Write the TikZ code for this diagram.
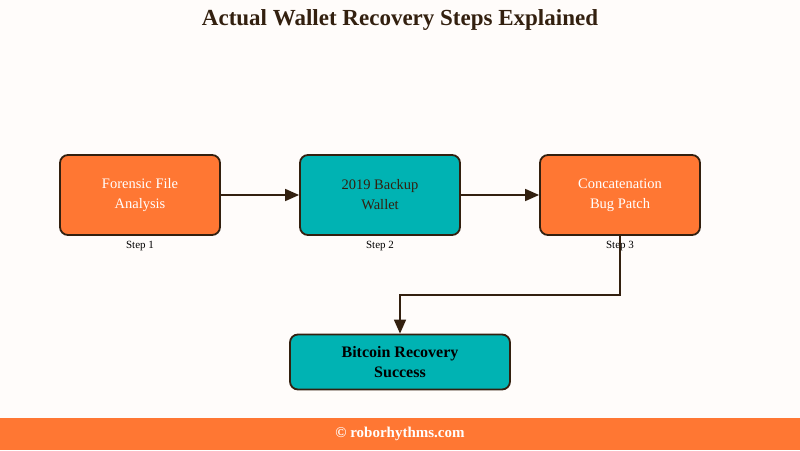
\documentclass[tikz,border=0pt]{standalone}
\usepackage{fontspec}
\setmainfont{Liberation Serif}
\usetikzlibrary{positioning,arrows.meta}
\definecolor{bgcol}{HTML}{FFFCFA}
\definecolor{stepor}{HTML}{FF7733}
\definecolor{stepteal}{HTML}{00B3B3}
\definecolor{edgecol}{HTML}{33200F}
\tikzset{
  stepbox/.style={draw=edgecol, line width=1.8pt, rounded corners=8pt, minimum width=160pt, minimum height=80pt, align=center, font=\fontsize{14.5}{20}\selectfont},
  steplab/.style={font=\fontsize{11}{12}\selectfont, text=black},
  link/.style={draw=edgecol, line width=1.6pt, -{Triangle[length=14pt,width=12pt]}}
}
\begin{document}
\begin{tikzpicture}[x=1pt,y=-1pt]
    % page
    \fill[bgcol] (0,0) rectangle (800,450);
    \useasboundingbox (0,0) rectangle (800,450);
    \fill[stepor] (0,418) rectangle (800,450);
    \node[font=\bfseries\fontsize{23}{26}\selectfont, text=edgecol] (title) at (400,20) {Actual Wallet Recovery Steps Explained};
    \node[font=\bfseries\fontsize{15}{17}\selectfont, text=white] (foot) at (400,434) {© roborhythms.com};
    % steps
    \node[stepbox, fill=stepor, text=white] (forensic) at (140,195) {Forensic File\\Analysis};
    \node[stepbox, fill=stepteal, text=edgecol] (backup) at (380,195) {2019 Backup\\Wallet};
    \node[stepbox, fill=stepor, text=white] (patch) at (620,195) {Concatenation\\Bug Patch};
    \node[stepbox, fill=stepteal, text=black, minimum width=220pt, minimum height=55pt, font=\bfseries\fontsize{16}{20}\selectfont] (success) at (400,362) {Bitcoin Recovery\\Success};
    % labels
    \node[steplab, below=2pt of forensic] (lab1) {Step 1};
    \node[steplab, below=2pt of backup] (lab2) {Step 2};
    \node[steplab, below=2pt of patch] (lab3) {Step 3};
    % links
    \draw[link] (forensic) -- (backup);
    \draw[link] (backup) -- (patch);
    \coordinate (bend) at (620,295);
    \draw[link] (patch.south) -- (bend) -| (success.north);
\end{tikzpicture}
\end{document}
